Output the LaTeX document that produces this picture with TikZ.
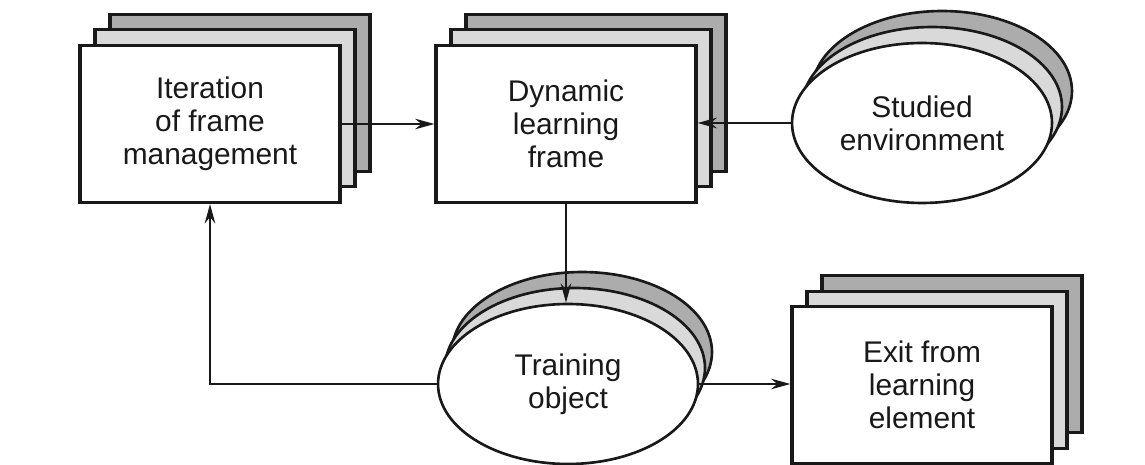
\documentclass[tikz,border=0pt]{standalone}
\usepackage{fontspec}
\setmainfont{Liberation Sans}
\usetikzlibrary{positioning,shapes.geometric,arrows.meta}

\begin{document}
\begin{tikzpicture}[x=0.02cm, y=-0.02cm,
      every node/.style={font=\fontsize{17pt}{18.7pt}\selectfont, text=black!90},
      frame/.style={draw=black!90, line width=1.8pt, minimum width=5.2cm, minimum height=3.14cm, inner sep=0pt, align=center},
      oval/.style={ellipse, draw=black!90, line width=1.5pt, minimum width=5.2cm, minimum height=3.2cm, inner sep=0pt, align=center},
      front/.style={fill=white},
      mid/.style={fill=gray!30},
      back/.style={fill=gray!65},
      flow/.style={draw=black!90, line width=1.3pt, -{Stealth[length=11pt,width=6pt]}}]

    \useasboundingbox (0,0) rectangle (1145,465);

    % stacked frames
    \node[frame,back] (iter-b) at (240,93) {};
    \node[frame,mid] (iter-m) at (225,108) {};
    \node[frame,front] (iter) at (210,124) {Iteration\\of frame\\management};

    \node[frame,back] (dyn-b) at (596,93) {};
    \node[frame,mid] (dyn-m) at (581,108) {};
    \node[frame,front] (dyn) at (566,124) {Dynamic\\learning\\frame};

    \node[frame,back] (exit-b) at (952,354) {};
    \node[frame,mid] (exit-m) at (937,370) {};
    \node[frame,front] (exit) at (922,385) {Exit from\\learning\\element};

    % stacked ovals
    \node[oval,back] (env-b) at (942,91) {};
    \node[oval,mid] (env-m) at (932,107) {};
    \node[oval,front] (env) at (922,123) {Studied\\environment};

    \node[oval,back] (train-b) at (582,352) {};
    \node[oval,mid] (train-m) at (575,368) {};
    \node[oval,front] (train) at (568,384) {Training\\object};

    % connectors
    \draw[flow] (iter.east) -- (iter.east -| dyn.west);
    \draw[flow] (env.west) -- (env.west -| dyn.east);
    \draw[flow] (dyn.south) -- (dyn.south |- train.north);
    \draw[flow] (train.west) -| (iter.south);
    \draw[flow] (train.east) -- (train.east -| exit.west);

\end{tikzpicture}
\end{document}
